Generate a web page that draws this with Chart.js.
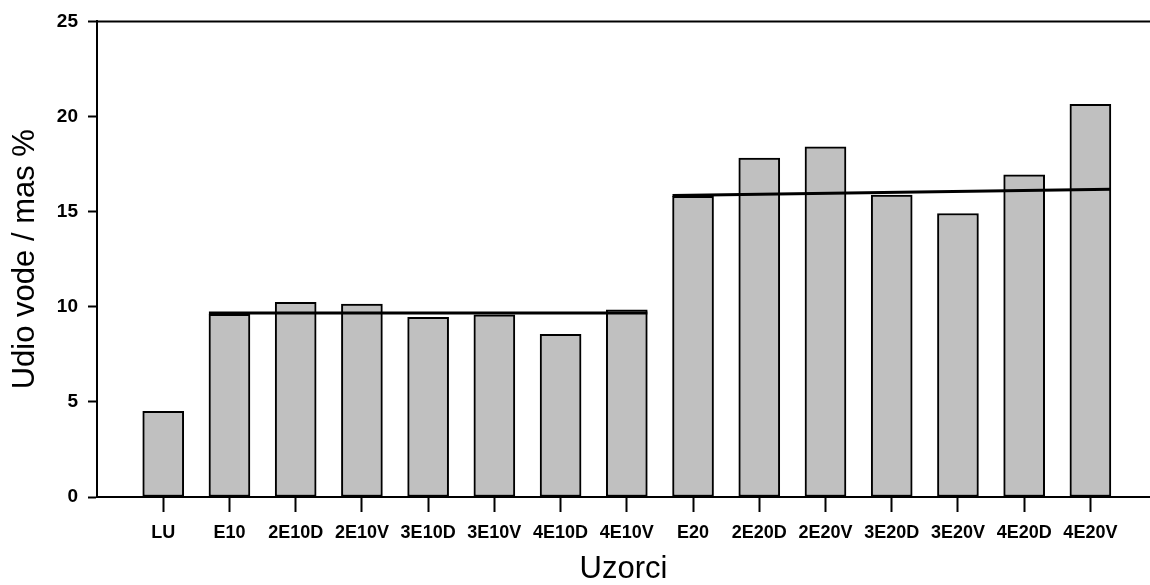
<!DOCTYPE html>
<html>
<head>
<meta charset="utf-8">
<title>Udio vode</title>
<script src="https://cdn.jsdelivr.net/npm/chart.js@4/dist/chart.umd.min.js"></script>
<style>
  html, body { margin: 0; padding: 0; background: #fff; }
  #wrap { width: 1150px; height: 585px; }
</style>
</head>
<body>
<div id="wrap"><canvas id="waterChart" width="1150" height="585"></canvas></div>
<script>
// Uzorci (kategorije na osi x)
const samples = ['LU', 'E10', '2E10D', '2E10V', '3E10D', '3E10V', '4E10D', '4E10V',
  'E20', '2E20D', '2E20V', '3E20D', '3E20V', '4E20D', '4E20V'];

// Udio vode / mas %
const waterContent = [4.50, 9.60, 10.23, 10.14, 9.44, 9.58, 8.55, 9.84,
  15.80, 17.81, 18.41, 15.87, 14.90, 16.94, 20.64];

// Linije trenda: početna i krajnja vrijednost, od prvog do zadnjeg uzorka grupe
const trend10 = [9.67, 9.67];
const trend10Range = ['E10', '4E10V'];
const trend20 = [15.85, 16.18];
const trend20Range = ['E20', '4E20V'];

const yTicks = [0, 5, 10, 15, 20, 25];

const halfBar = 0.31; // pola širine stupca u jedinicama kategorije

function trendPoints(values, range) {
  const a = samples.indexOf(range[0]);
  const b = samples.indexOf(range[1]);
  return [
    { x: a - halfBar, y: values[0] },
    { x: b + halfBar, y: values[1] },
  ];
}

// gornja linija okvira
const topLine = {
  id: 'topLine',
  afterDraw(chart) {
    const { ctx, chartArea } = chart;
    ctx.save();
    ctx.strokeStyle = '#000';
    ctx.lineWidth = 2;
    ctx.beginPath();
    ctx.moveTo(chartArea.left, chartArea.top);
    ctx.lineTo(chartArea.right, chartArea.top);
    ctx.stroke();
    ctx.restore();
  },
};

const ctx = document.getElementById('waterChart').getContext('2d');

new Chart(ctx, {
  type: 'bar',
  data: {
    datasets: [
      {
        type: 'line',
        data: trendPoints(trend10, trend10Range),
        borderColor: '#000',
        borderWidth: 3,
        pointRadius: 0,
        order: 0,
      },
      {
        type: 'line',
        data: trendPoints(trend20, trend20Range),
        borderColor: '#000',
        borderWidth: 3,
        pointRadius: 0,
        order: 0,
      },
      {
        type: 'bar',
        data: waterContent.map((v, i) => ({ x: i, y: v })),
        backgroundColor: '#c0c0c0',
        borderColor: '#000',
        borderWidth: 2,
        borderSkipped: false,
        barThickness: 41,
        order: 1,
      },
    ],
  },
  plugins: [topLine],
  options: {
    responsive: false,
    animation: false,
    layout: { padding: { top: 19, right: 0, bottom: 0, left: 0 } },
    plugins: {
      legend: { display: false },
      tooltip: { enabled: false },
    },
    scales: {
      x: {
        type: 'linear',
        min: -1,
        max: 14.9,
        offset: false,
        afterBuildTicks(scale) {
          scale.ticks = samples.map((s, i) => ({ value: i }));
        },
        afterFit(scale) { scale.height = 88; },
        border: { display: true, color: '#000', width: 2 },
        grid: {
          offset: false,
          drawOnChartArea: false,
          drawTicks: true,
          tickLength: 15,
          tickWidth: 2,
          tickColor: '#000',
        },
        ticks: {
          autoSkip: false,
          maxRotation: 0,
          padding: 10,
          color: '#000',
          font: { family: 'Liberation Sans, Arial, sans-serif', size: 18, weight: 'bold' },
          callback: (value) => samples[value] ?? '',
        },
        title: {
          display: true,
          text: 'Uzorci',
          color: '#000',
          padding: { top: 0, bottom: 0 },
          font: { family: 'Liberation Sans, Arial, sans-serif', size: 31, lineHeight: 1 },
        },
      },
      y: {
        min: 0,
        max: 25,
        afterBuildTicks(scale) {
          scale.ticks = yTicks.map((v) => ({ value: v }));
        },
        afterFit(scale) { scale.width = 97; },
        border: { display: true, color: '#000', width: 2 },
        grid: {
          drawOnChartArea: false,
          drawTicks: true,
          tickLength: 9,
          tickWidth: 2,
          tickColor: '#000',
        },
        ticks: {
          padding: 10,
          color: '#000',
          font: { family: 'Liberation Sans, Arial, sans-serif', size: 19, weight: 'bold' },
        },
        title: {
          display: true,
          text: 'Udio vode / mas %',
          color: '#000',
          padding: { top: 10, bottom: 0 },
          font: { family: 'Liberation Sans, Arial, sans-serif', size: 31, lineHeight: 1 },
        },
      },
    },
  },
});
</script>
</body>
</html>
